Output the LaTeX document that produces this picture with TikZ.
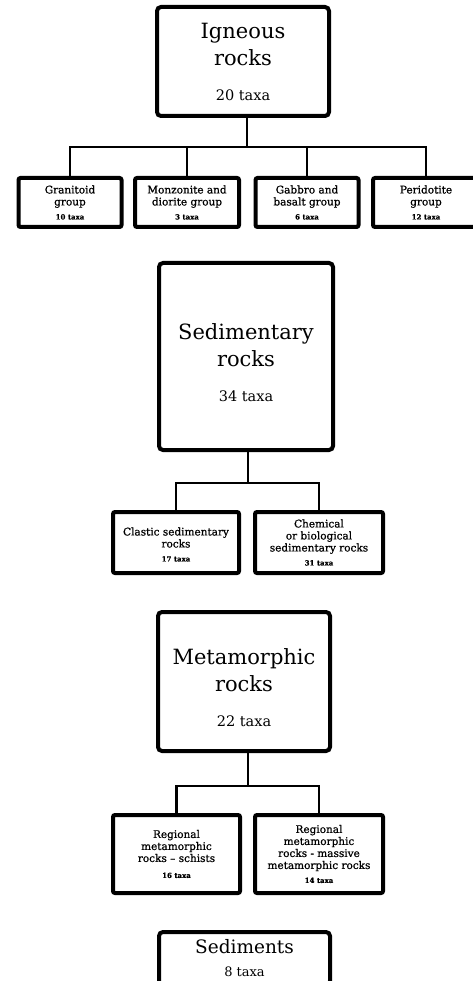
\documentclass[tikz,border=0pt]{standalone}
\usepackage{fontspec}
\setmainfont{DejaVu Serif}
\newfontfamily\groupfont[FakeBold=0.8]{DejaVu Serif}
\usetikzlibrary{positioning}

\tikzset{
	rockbox/.style={draw, line width=4pt, rounded corners=4pt, align=center, inner sep=0pt,
		font=\fontsize{21}{27}\selectfont},
	groupbox/.style={draw, line width=4pt, rounded corners=2pt, align=center, inner sep=0pt,
		font=\groupfont\fontsize{10.5}{12}\selectfont},
	link/.style={line width=2.6pt},
}
\newcommand{\bigtaxa}[1]{\fontsize{14.5}{18}\selectfont #1 taxa}
\newcommand{\smalltaxa}[1]{\fontsize{7}{9}\selectfont\bfseries #1 taxa}

\begin{document}
\begin{tikzpicture}[x=1pt, y=-1pt]
		\useasboundingbox (0,0) rectangle (472,981);
		% igneous
		\node[rockbox, minimum width=172pt, minimum height=109pt] (ign) at (243,61.5) {Igneous\\rocks\\[8pt]\bigtaxa{20}};
		\node[groupbox, minimum width=103pt, minimum height=49pt] (gran) at (70,202.5) {Granitoid\\group\\[2pt]\smalltaxa{10}};
		\node[groupbox, minimum width=104pt, minimum height=49pt] (monz) at (187,202.5) {Monzonite and\\diorite group\\[2pt]\smalltaxa{3}};
		\node[groupbox, minimum width=103pt, minimum height=49pt] (gabb) at (307,202.5) {Gabbro and\\basalt group\\[2pt]\smalltaxa{6}};
		\node[groupbox, minimum width=106pt, minimum height=49pt] (peri) at (426,202.5) {Peridotite\\group\\[2pt]\smalltaxa{12}};
		\coordinate (ignjoin) at (247,147);
		\draw[link] (ign.south -| ignjoin) -- (ignjoin);
		\draw[link] (gran.north) |- (ignjoin) -| (peri.north);
		\draw[link] (monz.north) -- (monz.north |- ignjoin);
		\draw[link] (gabb.north) -- (gabb.north |- ignjoin);
		% sedimentary
		\node[rockbox, minimum width=174pt, minimum height=187pt] (sed) at (246,356.5) {\rule{0pt}{28pt}Sedimentary\\rocks\\[8pt]\bigtaxa{34}};
		\node[groupbox, minimum width=126pt, minimum height=61pt] (clas) at (176,542.5) {\rule{0pt}{12pt}Clastic sedimentary\\rocks\\[2pt]\smalltaxa{17}};
		\node[groupbox, minimum width=128pt, minimum height=61pt] (chem) at (319,542.5) {Chemical\\or biological\\sedimentary rocks\\[2pt]\smalltaxa{31}};
		\coordinate (sedjoin) at (248,483);
		\draw[link] (sed.south -| sedjoin) -- (sedjoin);
		\draw[link] (clas.north) |- (sedjoin) -| (chem.north);
		% metamorphic
		\node[rockbox, minimum width=172pt, minimum height=139pt] (met) at (244,681.5) {\rule{0pt}{28pt}Metamorphic\\rocks\\[8pt]\bigtaxa{22}};
		\node[groupbox, minimum width=127pt, minimum height=78pt] (schi) at (176.5,854) {Regional\\metamorphic\\rocks – schists\\[4pt]\smalltaxa{16}};
		\node[groupbox, minimum width=128pt, minimum height=78pt] (mass) at (319,854) {Regional\\metamorphic\\rocks - massive\\metamorphic rocks\\[2pt]\smalltaxa{14}};
		\coordinate (metjoin) at (248,786);
		\draw[link] (met.south -| metjoin) -- (metjoin);
		\draw[link] (schi.north) |- (metjoin) -| (mass.north);
		% sediments
		\node[rockbox, minimum width=171pt, minimum height=53pt, font=\fontsize{18.5}{23}\selectfont] (sdm) at (244.5,958.5) {Sediments\\\fontsize{13}{16}\selectfont 8 taxa};
	\end{tikzpicture}
\end{document}
